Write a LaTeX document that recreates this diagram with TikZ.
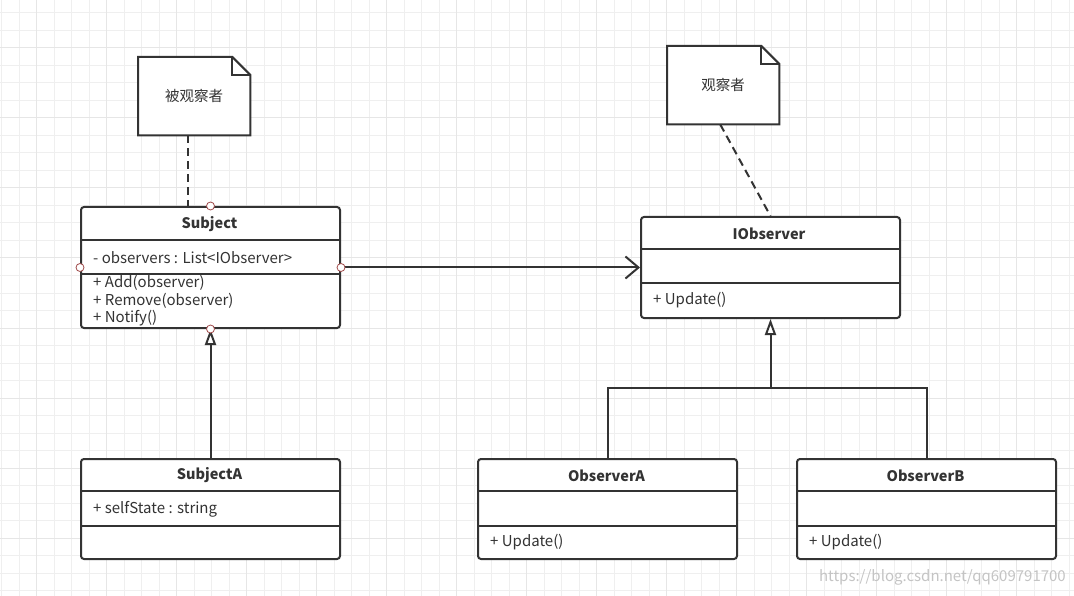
\documentclass[tikz,border=0pt]{standalone}
\usepackage{fontspec}
\setmainfont{Noto Sans CJK SC}
\usetikzlibrary{arrows.meta,calc}
\definecolor{ink}{HTML}{333333}
\definecolor{gridminor}{HTML}{EFEFEF}
\definecolor{gridmajor}{HTML}{E6E6E6}
\definecolor{pincol}{HTML}{A04A4A}
\definecolor{markcol}{HTML}{C4C4C4}

\begin{document}
\begin{tikzpicture}[
    x=1pt, y=-1pt,
    cls/.style={draw=ink, line width=2pt, rounded corners=3pt, fill=white,
      anchor=north west, inner sep=0pt, minimum width=259pt},
    notebox/.style={anchor=north west, inner sep=0pt, minimum width=112pt, minimum height=78pt},
    notetext/.style={font=\fontsize{14.5}{16}\selectfont, text=ink},
    title/.style={font=\fontsize{14.5}{16}\selectfont\bfseries, text=ink, yshift=-1pt},
    member/.style={font=\fontsize{15}{16}\selectfont, text=ink, anchor=west, inner sep=0pt, yshift=-1pt},
    sep/.style={draw=ink, line width=2pt},
    link/.style={draw=ink, line width=2pt},
    pin/.style={circle, draw=pincol, fill=white, line width=0.8pt, inner sep=0pt, minimum size=8pt},
    inherit/.style={link, -{Triangle[length=16pt,width=11pt,fill=white]}},
    assoc/.style={link, -{Straight Barb[length=13pt,width=22pt]}},
    dashline/.style={draw=ink, line width=2pt, dash pattern=on 8pt off 5pt}
  ]
    % background and grid
    \useasboundingbox (0,0) rectangle (1074,596);
    \fill[white] (0,0) rectangle (1074,596);
    \foreach \x in {1.7,19.2,...,1074} \draw[gridminor, line width=1pt] (\x,0) -- (\x,596);
    \foreach \y in {13,30.5,...,596} \draw[gridminor, line width=1pt] (0,\y) -- (1074,\y);
    \foreach \x in {36.7,106.7,...,1074} \draw[gridmajor, line width=1pt] (\x,0) -- (\x,596);
    \foreach \y in {48,118,...,596} \draw[gridmajor, line width=1pt] (0,\y) -- (1074,\y);

    % notes
    \node[notebox] (note1) at (138,57) {};
    \node[notebox] (note2) at (667,46) {};
    \foreach \n in {note1,note2} {
      \draw[ink, line width=2pt, fill=white] (\n.south west) -- (\n.north west)
        -- ([xshift=-18pt]\n.north east) -- ([yshift=-18pt]\n.north east)
        -- (\n.south east) -- cycle;
      \draw[ink, line width=2pt] ([xshift=-18pt]\n.north east) |- ([yshift=-18pt]\n.north east);
    }
    \node[notetext] (note1-t) at (note1) {被观察者};
    \node[notetext] (note2-t) at (note2) {观察者};

    % classes
    \node[cls, minimum height=121pt] (subject) at (80,206) {};
    \node[cls, minimum height=101pt] (iobs) at (640,216) {};
    \node[cls, minimum height=100pt] (subjA) at (80,458) {};
    \node[cls, minimum height=100pt] (obsA) at (477,458) {};
    \node[cls, minimum height=100pt] (obsB) at (796,458) {};

    \draw[sep] ($(subject.north west)+(0,34)$) -- ($(subject.north east)+(0,34)$);
    \draw[sep] ($(subject.north west)+(0,68)$) -- ($(subject.north east)+(0,68)$);
    \draw[sep] ($(iobs.north west)+(0,33)$) -- ($(iobs.north east)+(0,33)$);
    \draw[sep] ($(iobs.north west)+(0,67)$) -- ($(iobs.north east)+(0,67)$);
    \foreach \c in {subjA,obsA,obsB} {
      \draw[sep] ($(\c.north west)+(0,33)$) -- ($(\c.north east)+(0,33)$);
      \draw[sep] ($(\c.north west)+(0,67.5)$) -- ($(\c.north east)+(0,67.5)$);
    }

    \node[title] (subject-t) at (209.5,223) {Subject};
    \node[member] (subject-a) at (93,257) {- observers : List<IObserver>};
    \node[member] (subject-m1) at (93,282) {+ Add(observer)};
    \node[member] (subject-m2) at (93,299.5) {+ Remove(observer)};
    \node[member] (subject-m3) at (93,317) {+ Notify()};

    \node[title] (iobs-t) at (769,232.5) {IObserver};
    \node[member] (iobs-m) at (653,299.5) {+ Update()};

    \node[title] (subjA-t) at (209.5,474.5) {SubjectA};
    \node[member] (subjA-a) at (93,508.5) {+ selfState : string};

    \node[title] (obsA-t) at (606.5,474.5) {ObserverA};
    \node[member] (obsA-m) at (490,541.5) {+ Update()};
    \node[title] (obsB-t) at (925.5,474.5) {ObserverB};
    \node[member] (obsB-m) at (809,541.5) {+ Update()};

    % connectors
    \draw[dashline] ([xshift=-6pt]note1.south) -- ([xshift=-6pt]note1.south |- subject.north);
    \draw[dashline] ([xshift=-3pt]note2.south) -- (iobs.north);
    \draw[assoc] (subject.east) -- (iobs.west);
    \draw[inherit] (subjA.north) -- (subject.south);
    \coordinate (join) at (iobs.south |- 0,388);
    \draw[link] (obsA.north) |- (join) -| (obsB.north);
    \draw[inherit] (join) -- (iobs.south);

    % connection points
    \foreach \p in {north,west,east,south} \node[pin] (pin-\p) at (subject.\p) {};

    \node[font=\fontsize{15}{17}\selectfont, text=markcol, anchor=east, inner sep=0pt]
      (mark) at (1066,577) {https://blog.csdn.net/qq609791700};
\end{tikzpicture}
\end{document}
